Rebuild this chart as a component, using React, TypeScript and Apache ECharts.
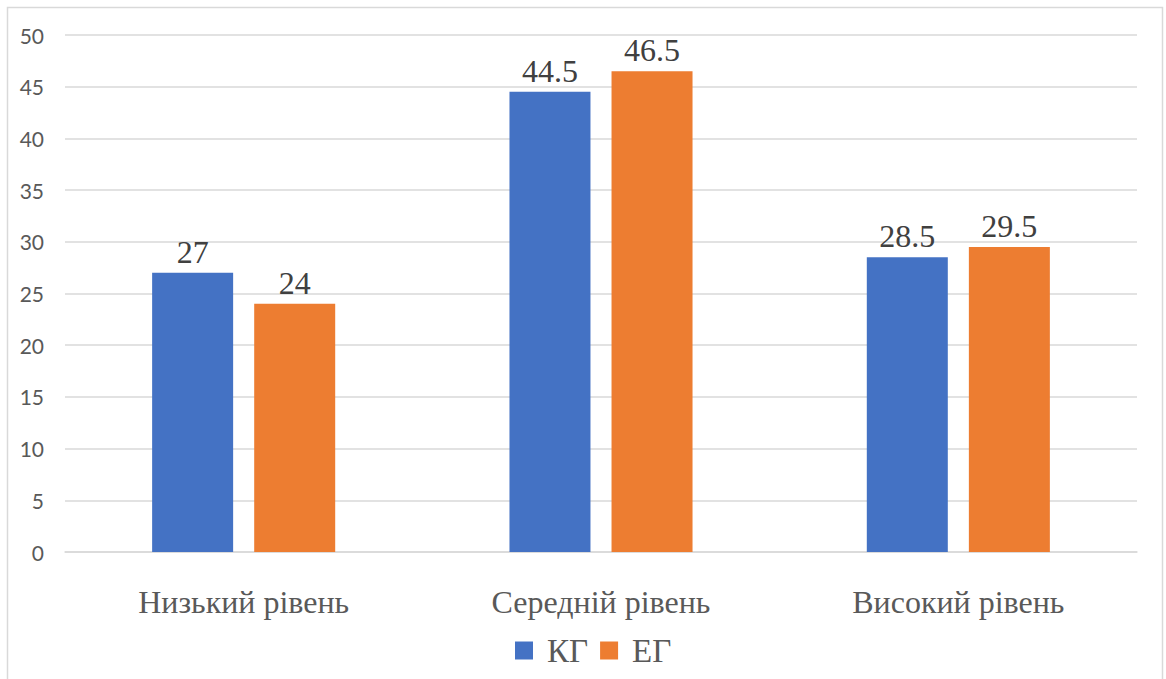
import React, { useEffect, useRef } from "react";
import * as echarts from "echarts";

const categories = ["Низький рівень", "Середній рівень", "Високий рівень"];
const seriesNames = ["КГ", "ЕГ"];
const kgValues = [27, 44.5, 28.5];
const egValues = [24, 46.5, 29.5];
const yTicks = { min: 0, max: 50, interval: 5 };

const BLUE = "#4472C4";
const ORANGE = "#ED7D31";
const SERIF = "'Liberation Serif', 'Times New Roman', serif";
const SANS = "Lato, 'Liberation Sans', sans-serif";

export default function App() {
  const ref = useRef<HTMLDivElement>(null);

  useEffect(() => {
    if (!ref.current) return;
    const chart = echarts.init(ref.current, undefined, { renderer: "svg" });
    const labelStyle = {
      show: true,
      position: "top" as const,
      distance: 5,
      fontFamily: SERIF,
      fontSize: 32,
      color: "#404040",
    };
    chart.setOption({
      animation: false,
      backgroundColor: "#ffffff",
      graphic: [
        {
          type: "rect",
          shape: { x: 7.5, y: 7.5, width: 1155, height: 700 },
          style: { fill: "none", stroke: "#d9d9d9", lineWidth: 1.5 },
          silent: true,
        },
      ],
      grid: { left: 65, right: 29, top: 35, bottom: 127, containLabel: false },
      legend: {
        data: seriesNames,
        bottom: 7,
        left: 510,
        icon: "rect",
        itemWidth: 18,
        itemHeight: 18,
        itemGap: 12,
        textStyle: {
          fontFamily: SERIF,
          fontSize: 33,
          color: "#595959",
          padding: [0, 0, 0, 9],
        },
      },
      xAxis: {
        type: "category",
        data: categories,
        axisLine: { show: true, lineStyle: { color: "#d9d9d9", width: 1.5 } },
        axisTick: { show: false },
        axisLabel: {
          fontFamily: SERIF,
          fontSize: 32,
          color: "#595959",
          margin: 34,
        },
      },
      yAxis: {
        type: "value",
        min: yTicks.min,
        max: yTicks.max,
        interval: yTicks.interval,
        axisLine: { show: false },
        axisTick: { show: false },
        axisLabel: {
          fontFamily: SANS,
          fontSize: 21,
          color: "#595959",
          margin: 21,
        },
        splitLine: { lineStyle: { color: "#d9d9d9", width: 1.5 } },
      },
      series: [
        {
          name: seriesNames[0],
          type: "bar",
          data: kgValues,
          barWidth: 81,
          barGap: "26%",
          itemStyle: { color: BLUE },
          label: labelStyle,
        },
        {
          name: seriesNames[1],
          type: "bar",
          data: egValues,
          barWidth: 81,
          barGap: "26%",
          itemStyle: { color: ORANGE },
          label: labelStyle,
        },
      ],
    });
    return () => chart.dispose();
  }, []);

  return (
    <div
      ref={ref}
      style={{ position: "fixed", left: 0, top: 0, width: 1166, height: 679 }}
    />
  );
}
